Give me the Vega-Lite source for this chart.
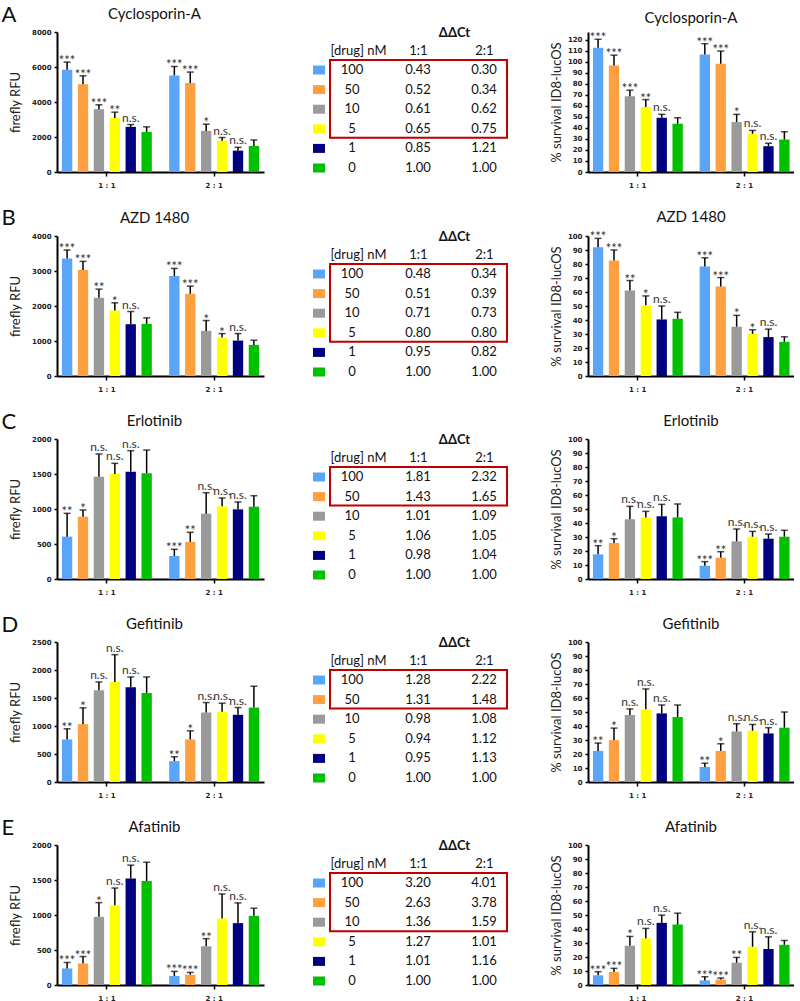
{
"$schema":"https://vega.github.io/schema/vega-lite/v6.json",
"background":"white",
"padding":{"left":1,"top":4,"right":0,"bottom":0},
"spacing":19,
"config":{
 "view":{"stroke":null},
 "font":"Lato",
 "title":{"fontSize":15,"fontWeight":"normal","font":"Lato","color":"#111","offset":6},
 "axis":{"domainColor":"#000","domainWidth":2,"tickColor":"#000","tickWidth":1.5,"tickSize":3,"labelFont":"DejaVu Sans","labelFontWeight":"bold","labelFontSize":7,"labelColor":"#222","titleFont":"Lato","titleFontWeight":"normal","titleFontSize":13,"titleColor":"#222","grid":false,"labelPadding":3},
 "axisY":{"labelBound":false,"tickCount":30},
 "concat":{"spacing":10}
},
"datasets":{
"bars":[
{"drug":"Cyclosporin-A","assay":"rfu","ratio":"1:1","conc":"100","mean":5840,"upper":6280,"sig":"***"},
{"drug":"Cyclosporin-A","assay":"rfu","ratio":"1:1","conc":"50","mean":5020,"upper":5500,"sig":"***"},
{"drug":"Cyclosporin-A","assay":"rfu","ratio":"1:1","conc":"10","mean":3590,"upper":3840,"sig":"***"},
{"drug":"Cyclosporin-A","assay":"rfu","ratio":"1:1","conc":"5","mean":3090,"upper":3420,"sig":"**"},
{"drug":"Cyclosporin-A","assay":"rfu","ratio":"1:1","conc":"1","mean":2580,"upper":2710,"sig":"n.s."},
{"drug":"Cyclosporin-A","assay":"rfu","ratio":"1:1","conc":"0","mean":2290,"upper":2580,"sig":""},
{"drug":"Cyclosporin-A","assay":"rfu","ratio":"2:1","conc":"100","mean":5520,"upper":6030,"sig":"***"},
{"drug":"Cyclosporin-A","assay":"rfu","ratio":"2:1","conc":"50","mean":5080,"upper":5710,"sig":"***"},
{"drug":"Cyclosporin-A","assay":"rfu","ratio":"2:1","conc":"10","mean":2350,"upper":2730,"sig":"*"},
{"drug":"Cyclosporin-A","assay":"rfu","ratio":"2:1","conc":"5","mean":1790,"upper":1970,"sig":"n.s."},
{"drug":"Cyclosporin-A","assay":"rfu","ratio":"2:1","conc":"1","mean":1220,"upper":1410,"sig":"n.s."},
{"drug":"Cyclosporin-A","assay":"rfu","ratio":"2:1","conc":"0","mean":1490,"upper":1830,"sig":""},
{"drug":"Cyclosporin-A","assay":"surv","ratio":"1:1","conc":"100","mean":112.8,"upper":120.4,"sig":"***"},
{"drug":"Cyclosporin-A","assay":"surv","ratio":"1:1","conc":"50","mean":96.7,"upper":106,"sig":"***"},
{"drug":"Cyclosporin-A","assay":"surv","ratio":"1:1","conc":"10","mean":68.7,"upper":74.2,"sig":"***"},
{"drug":"Cyclosporin-A","assay":"surv","ratio":"1:1","conc":"5","mean":59.0,"upper":65.7,"sig":"**"},
{"drug":"Cyclosporin-A","assay":"surv","ratio":"1:1","conc":"1","mean":49.2,"upper":52.3,"sig":"n.s."},
{"drug":"Cyclosporin-A","assay":"surv","ratio":"1:1","conc":"0","mean":43.8,"upper":49.2,"sig":""},
{"drug":"Cyclosporin-A","assay":"surv","ratio":"2:1","conc":"100","mean":106.7,"upper":116.4,"sig":"***"},
{"drug":"Cyclosporin-A","assay":"surv","ratio":"2:1","conc":"50","mean":98.2,"upper":109.7,"sig":"***"},
{"drug":"Cyclosporin-A","assay":"surv","ratio":"2:1","conc":"10","mean":45.3,"upper":52.3,"sig":"*"},
{"drug":"Cyclosporin-A","assay":"surv","ratio":"2:1","conc":"5","mean":34.7,"upper":37.7,"sig":"n.s."},
{"drug":"Cyclosporin-A","assay":"surv","ratio":"2:1","conc":"1","mean":23.4,"upper":26.1,"sig":"n.s."},
{"drug":"Cyclosporin-A","assay":"surv","ratio":"2:1","conc":"0","mean":29.5,"upper":36.5,"sig":""},
{"drug":"AZD 1480","assay":"rfu","ratio":"1:1","conc":"100","mean":3360,"upper":3600,"sig":"***"},
{"drug":"AZD 1480","assay":"rfu","ratio":"1:1","conc":"50","mean":3026,"upper":3275,"sig":"***"},
{"drug":"AZD 1480","assay":"rfu","ratio":"1:1","conc":"10","mean":2234,"upper":2482,"sig":"**"},
{"drug":"AZD 1480","assay":"rfu","ratio":"1:1","conc":"5","mean":1871,"upper":2091,"sig":"*"},
{"drug":"AZD 1480","assay":"rfu","ratio":"1:1","conc":"1","mean":1480,"upper":1842,"sig":"n.s."},
{"drug":"AZD 1480","assay":"rfu","ratio":"1:1","conc":"0","mean":1489,"upper":1661,"sig":""},
{"drug":"AZD 1480","assay":"rfu","ratio":"2:1","conc":"100","mean":2854,"upper":3074,"sig":"***"},
{"drug":"AZD 1480","assay":"rfu","ratio":"2:1","conc":"50","mean":2348,"upper":2568,"sig":"***"},
{"drug":"AZD 1480","assay":"rfu","ratio":"2:1","conc":"10","mean":1289,"upper":1585,"sig":"*"},
{"drug":"AZD 1480","assay":"rfu","ratio":"2:1","conc":"5","mean":1098,"upper":1212,"sig":"*"},
{"drug":"AZD 1480","assay":"rfu","ratio":"2:1","conc":"1","mean":1012,"upper":1212,"sig":"n.s."},
{"drug":"AZD 1480","assay":"rfu","ratio":"2:1","conc":"0","mean":888,"upper":1021,"sig":""},
{"drug":"AZD 1480","assay":"surv","ratio":"1:1","conc":"100","mean":91.9,"upper":98.3,"sig":"***"},
{"drug":"AZD 1480","assay":"surv","ratio":"1:1","conc":"50","mean":82.5,"upper":90.0,"sig":"***"},
{"drug":"AZD 1480","assay":"surv","ratio":"1:1","conc":"10","mean":61.0,"upper":68.2,"sig":"**"},
{"drug":"AZD 1480","assay":"surv","ratio":"1:1","conc":"5","mean":50.5,"upper":57.2,"sig":"*"},
{"drug":"AZD 1480","assay":"surv","ratio":"1:1","conc":"1","mean":40.4,"upper":50.0,"sig":"n.s."},
{"drug":"AZD 1480","assay":"surv","ratio":"1:1","conc":"0","mean":40.9,"upper":45.5,"sig":""},
{"drug":"AZD 1480","assay":"surv","ratio":"2:1","conc":"100","mean":78.2,"upper":84.4,"sig":"***"},
{"drug":"AZD 1480","assay":"surv","ratio":"2:1","conc":"50","mean":63.9,"upper":70.3,"sig":"***"},
{"drug":"AZD 1480","assay":"surv","ratio":"2:1","conc":"10","mean":35.2,"upper":43.3,"sig":"*"},
{"drug":"AZD 1480","assay":"surv","ratio":"2:1","conc":"5","mean":30.1,"upper":33.0,"sig":"*"},
{"drug":"AZD 1480","assay":"surv","ratio":"2:1","conc":"1","mean":27.8,"upper":33.5,"sig":"n.s."},
{"drug":"AZD 1480","assay":"surv","ratio":"2:1","conc":"0","mean":24.4,"upper":28.0,"sig":""},
{"drug":"Erlotinib","assay":"rfu","ratio":"1:1","conc":"100","mean":605,"upper":938,"sig":"**"},
{"drug":"Erlotinib","assay":"rfu","ratio":"1:1","conc":"50","mean":890,"upper":986,"sig":"*"},
{"drug":"Erlotinib","assay":"rfu","ratio":"1:1","conc":"10","mean":1462,"upper":1786,"sig":"n.s."},
{"drug":"Erlotinib","assay":"rfu","ratio":"1:1","conc":"5","mean":1500,"upper":1652,"sig":"n.s."},
{"drug":"Erlotinib","assay":"rfu","ratio":"1:1","conc":"1","mean":1533,"upper":1833,"sig":"n.s."},
{"drug":"Erlotinib","assay":"rfu","ratio":"1:1","conc":"0","mean":1510,"upper":1843,"sig":""},
{"drug":"Erlotinib","assay":"rfu","ratio":"2:1","conc":"100","mean":329,"upper":424,"sig":"***"},
{"drug":"Erlotinib","assay":"rfu","ratio":"2:1","conc":"50","mean":529,"upper":667,"sig":"**"},
{"drug":"Erlotinib","assay":"rfu","ratio":"2:1","conc":"10","mean":933,"upper":1233,"sig":"n.s."},
{"drug":"Erlotinib","assay":"rfu","ratio":"2:1","conc":"5","mean":1038,"upper":1157,"sig":"n.s."},
{"drug":"Erlotinib","assay":"rfu","ratio":"2:1","conc":"1","mean":995,"upper":1100,"sig":"n.s."},
{"drug":"Erlotinib","assay":"rfu","ratio":"2:1","conc":"0","mean":1033,"upper":1190,"sig":""},
{"drug":"Erlotinib","assay":"surv","ratio":"1:1","conc":"100","mean":17.6,"upper":23.8,"sig":"**"},
{"drug":"Erlotinib","assay":"surv","ratio":"1:1","conc":"50","mean":25.7,"upper":28.8,"sig":"*"},
{"drug":"Erlotinib","assay":"surv","ratio":"1:1","conc":"10","mean":42.6,"upper":51.9,"sig":"n.s."},
{"drug":"Erlotinib","assay":"surv","ratio":"1:1","conc":"5","mean":44.0,"upper":48.3,"sig":"n.s."},
{"drug":"Erlotinib","assay":"surv","ratio":"1:1","conc":"1","mean":44.8,"upper":53.3,"sig":"n.s."},
{"drug":"Erlotinib","assay":"surv","ratio":"1:1","conc":"0","mean":44.0,"upper":53.6,"sig":""},
{"drug":"Erlotinib","assay":"surv","ratio":"2:1","conc":"100","mean":9.5,"upper":12.4,"sig":"***"},
{"drug":"Erlotinib","assay":"surv","ratio":"2:1","conc":"50","mean":15.2,"upper":19.5,"sig":"**"},
{"drug":"Erlotinib","assay":"surv","ratio":"2:1","conc":"10","mean":26.9,"upper":35.7,"sig":"n.s."},
{"drug":"Erlotinib","assay":"surv","ratio":"2:1","conc":"5","mean":30.2,"upper":34.0,"sig":"n.s."},
{"drug":"Erlotinib","assay":"surv","ratio":"2:1","conc":"1","mean":28.8,"upper":32.1,"sig":"n.s."},
{"drug":"Erlotinib","assay":"surv","ratio":"2:1","conc":"0","mean":30.2,"upper":34.8,"sig":""},
{"drug":"Gefitinib","assay":"rfu","ratio":"1:1","conc":"100","mean":760,"upper":950,"sig":"**"},
{"drug":"Gefitinib","assay":"rfu","ratio":"1:1","conc":"50","mean":1033,"upper":1324,"sig":"*"},
{"drug":"Gefitinib","assay":"rfu","ratio":"1:1","conc":"10","mean":1639,"upper":1787,"sig":"n.s."},
{"drug":"Gefitinib","assay":"rfu","ratio":"1:1","conc":"5","mean":1787,"upper":2274,"sig":"n.s."},
{"drug":"Gefitinib","assay":"rfu","ratio":"1:1","conc":"1","mean":1692,"upper":1876,"sig":"n.s."},
{"drug":"Gefitinib","assay":"rfu","ratio":"1:1","conc":"0","mean":1591,"upper":1876,"sig":""},
{"drug":"Gefitinib","assay":"rfu","ratio":"2:1","conc":"100","mean":374,"upper":451,"sig":"**"},
{"drug":"Gefitinib","assay":"rfu","ratio":"2:1","conc":"50","mean":760,"upper":914,"sig":"*"},
{"drug":"Gefitinib","assay":"rfu","ratio":"2:1","conc":"10","mean":1241,"upper":1419,"sig":"n.s."},
{"drug":"Gefitinib","assay":"rfu","ratio":"2:1","conc":"5","mean":1253,"upper":1407,"sig":"n.s."},
{"drug":"Gefitinib","assay":"rfu","ratio":"2:1","conc":"1","mean":1200,"upper":1330,"sig":"n.s."},
{"drug":"Gefitinib","assay":"rfu","ratio":"2:1","conc":"0","mean":1330,"upper":1710,"sig":""},
{"drug":"Gefitinib","assay":"surv","ratio":"1:1","conc":"100","mean":22.2,"upper":27.8,"sig":"**"},
{"drug":"Gefitinib","assay":"surv","ratio":"1:1","conc":"50","mean":29.9,"upper":38.5,"sig":"*"},
{"drug":"Gefitinib","assay":"surv","ratio":"1:1","conc":"10","mean":47.8,"upper":52.2,"sig":"n.s."},
{"drug":"Gefitinib","assay":"surv","ratio":"1:1","conc":"5","mean":51.9,"upper":66.5,"sig":"n.s."},
{"drug":"Gefitinib","assay":"surv","ratio":"1:1","conc":"1","mean":49.0,"upper":55.0,"sig":"n.s."},
{"drug":"Gefitinib","assay":"surv","ratio":"1:1","conc":"0","mean":46.4,"upper":55.0,"sig":""},
{"drug":"Gefitinib","assay":"surv","ratio":"2:1","conc":"100","mean":10.8,"upper":13.4,"sig":"**"},
{"drug":"Gefitinib","assay":"surv","ratio":"2:1","conc":"50","mean":22.2,"upper":27.3,"sig":"*"},
{"drug":"Gefitinib","assay":"surv","ratio":"2:1","conc":"10","mean":36.1,"upper":41.6,"sig":"n.s."},
{"drug":"Gefitinib","assay":"surv","ratio":"2:1","conc":"5","mean":36.6,"upper":41.1,"sig":"n.s."},
{"drug":"Gefitinib","assay":"surv","ratio":"2:1","conc":"1","mean":34.7,"upper":38.8,"sig":"n.s."},
{"drug":"Gefitinib","assay":"surv","ratio":"2:1","conc":"0","mean":38.8,"upper":50.0,"sig":""},
{"drug":"Afatinib","assay":"rfu","ratio":"1:1","conc":"100","mean":236,"upper":322,"sig":"***"},
{"drug":"Afatinib","assay":"rfu","ratio":"1:1","conc":"50","mean":307,"upper":407,"sig":"***"},
{"drug":"Afatinib","assay":"rfu","ratio":"1:1","conc":"10","mean":974,"upper":1177,"sig":"*"},
{"drug":"Afatinib","assay":"rfu","ratio":"1:1","conc":"5","mean":1139,"upper":1385,"sig":"n.s."},
{"drug":"Afatinib","assay":"rfu","ratio":"1:1","conc":"1","mean":1522,"upper":1712,"sig":"n.s."},
{"drug":"Afatinib","assay":"rfu","ratio":"1:1","conc":"0","mean":1485,"upper":1754,"sig":""},
{"drug":"Afatinib","assay":"rfu","ratio":"2:1","conc":"100","mean":128,"upper":194,"sig":"***"},
{"drug":"Afatinib","assay":"rfu","ratio":"2:1","conc":"50","mean":147,"upper":180,"sig":"***"},
{"drug":"Afatinib","assay":"rfu","ratio":"2:1","conc":"10","mean":553,"upper":662,"sig":"**"},
{"drug":"Afatinib","assay":"rfu","ratio":"2:1","conc":"5","mean":950,"upper":1300,"sig":"n.s."},
{"drug":"Afatinib","assay":"rfu","ratio":"2:1","conc":"1","mean":884,"upper":1173,"sig":"n.s."},
{"drug":"Afatinib","assay":"rfu","ratio":"2:1","conc":"0","mean":988,"upper":1097,"sig":""},
{"drug":"Afatinib","assay":"surv","ratio":"1:1","conc":"100","mean":6.9,"upper":9.5,"sig":"***"},
{"drug":"Afatinib","assay":"surv","ratio":"1:1","conc":"50","mean":9.3,"upper":11.9,"sig":"***"},
{"drug":"Afatinib","assay":"surv","ratio":"1:1","conc":"10","mean":28.0,"upper":34.7,"sig":"*"},
{"drug":"Afatinib","assay":"surv","ratio":"1:1","conc":"5","mean":33.3,"upper":40.4,"sig":"n.s."},
{"drug":"Afatinib","assay":"surv","ratio":"1:1","conc":"1","mean":44.4,"upper":49.9,"sig":"n.s."},
{"drug":"Afatinib","assay":"surv","ratio":"1:1","conc":"0","mean":43.2,"upper":51.3,"sig":""},
{"drug":"Afatinib","assay":"surv","ratio":"2:1","conc":"100","mean":3.3,"upper":5.9,"sig":"***"},
{"drug":"Afatinib","assay":"surv","ratio":"2:1","conc":"50","mean":4.0,"upper":5.0,"sig":"***"},
{"drug":"Afatinib","assay":"surv","ratio":"2:1","conc":"10","mean":15.9,"upper":19.7,"sig":"**"},
{"drug":"Afatinib","assay":"surv","ratio":"2:1","conc":"5","mean":27.3,"upper":38.0,"sig":"n.s."},
{"drug":"Afatinib","assay":"surv","ratio":"2:1","conc":"1","mean":25.7,"upper":34.4,"sig":"n.s."},
{"drug":"Afatinib","assay":"surv","ratio":"2:1","conc":"0","mean":28.7,"upper":31.8,"sig":""}
],
"table":[
{"drug":"Cyclosporin-A","conc":"100","r11":0.43,"r21":0.30},
{"drug":"Cyclosporin-A","conc":"50","r11":0.52,"r21":0.34},
{"drug":"Cyclosporin-A","conc":"10","r11":0.61,"r21":0.62},
{"drug":"Cyclosporin-A","conc":"5","r11":0.65,"r21":0.75},
{"drug":"Cyclosporin-A","conc":"1","r11":0.85,"r21":1.21},
{"drug":"Cyclosporin-A","conc":"0","r11":1.00,"r21":1.00},
{"drug":"AZD 1480","conc":"100","r11":0.48,"r21":0.34},
{"drug":"AZD 1480","conc":"50","r11":0.51,"r21":0.39},
{"drug":"AZD 1480","conc":"10","r11":0.71,"r21":0.73},
{"drug":"AZD 1480","conc":"5","r11":0.80,"r21":0.80},
{"drug":"AZD 1480","conc":"1","r11":0.95,"r21":0.82},
{"drug":"AZD 1480","conc":"0","r11":1.00,"r21":1.00},
{"drug":"Erlotinib","conc":"100","r11":1.81,"r21":2.32},
{"drug":"Erlotinib","conc":"50","r11":1.43,"r21":1.65},
{"drug":"Erlotinib","conc":"10","r11":1.01,"r21":1.09},
{"drug":"Erlotinib","conc":"5","r11":1.06,"r21":1.05},
{"drug":"Erlotinib","conc":"1","r11":0.98,"r21":1.04},
{"drug":"Erlotinib","conc":"0","r11":1.00,"r21":1.00},
{"drug":"Gefitinib","conc":"100","r11":1.28,"r21":2.22},
{"drug":"Gefitinib","conc":"50","r11":1.31,"r21":1.48},
{"drug":"Gefitinib","conc":"10","r11":0.98,"r21":1.08},
{"drug":"Gefitinib","conc":"5","r11":0.94,"r21":1.12},
{"drug":"Gefitinib","conc":"1","r11":0.95,"r21":1.13},
{"drug":"Gefitinib","conc":"0","r11":1.00,"r21":1.00},
{"drug":"Afatinib","conc":"100","r11":3.20,"r21":4.01},
{"drug":"Afatinib","conc":"50","r11":2.63,"r21":3.78},
{"drug":"Afatinib","conc":"10","r11":1.36,"r21":1.59},
{"drug":"Afatinib","conc":"5","r11":1.27,"r21":1.01},
{"drug":"Afatinib","conc":"1","r11":1.01,"r21":1.16},
{"drug":"Afatinib","conc":"0","r11":1.00,"r21":1.00}
],
"boxes":[
{"drug":"Cyclosporin-A","from":"100","to":"5"},
{"drug":"AZD 1480","from":"100","to":"5"},
{"drug":"Erlotinib","from":"100","to":"50"},
{"drug":"Gefitinib","from":"100","to":"50"},
{"drug":"Afatinib","from":"100","to":"10"}
]
},
"vconcat":[
{"title":{"text":"A","anchor":"start","fontSize":22,"offset":-20,"dx":-8},
 "hconcat":[
 {"width":207,"height":140,"title":{"text":"Cyclosporin-A","dx":-6},"data":{"name":"bars"},
  "transform":[{"filter":"datum.drug=='Cyclosporin-A' && datum.assay=='rfu'"}],
  "encoding":{"x":{"field":"ratio","type":"nominal","title":null,"scale":{"paddingInner":0.11,"paddingOuter":0.02},"axis":{"labelAngle":0,"labelExpr":"replace(datum.label, ':', ' : ')","tickSize":4,"labelPadding":5}},
   "xOffset":{"field":"conc","type":"nominal","scale":{"domain":["100","50","10","5","1","0"],"paddingInner":0.35,"paddingOuter":0.175}}},
  "layer":[
   {"mark":"bar","encoding":{"y":{"field":"mean","type":"quantitative","scale":{"domain":[0,8000],"nice":false},"axis":{"title":"firefly RFU","values":[0,2000,4000,6000,8000],"tickCount":30,"format":"d","titlePadding":9,"labelOverlap":false}},"color":{"field":"conc","type":"nominal","scale":{"domain":["100","50","10","5","1","0"],"range":["#5AA5F7","#FFA040","#9A9A9A","#FFFF00","#000080","#00C000"]},"legend":null}}},
   {"mark":{"type":"rule","color":"#000","strokeWidth":1.5},"encoding":{"y":{"field":"mean","type":"quantitative","axis":{"labelOverlap":false,"tickCount":30}},"y2":{"field":"upper"}}},
   {"mark":{"type":"tick","orient":"horizontal","color":"#000","thickness":1.5,"size":7},"encoding":{"y":{"field":"upper","type":"quantitative","axis":{"labelOverlap":false,"tickCount":30}}}},
   {"transform":[{"filter":"datum.sig=='n.s.'"}],"mark":{"type":"text","dy":-3,"baseline":"alphabetic","fontSize":12,"color":"#333"},"encoding":{"y":{"field":"upper","type":"quantitative","axis":{"labelOverlap":false,"tickCount":30}},"text":{"field":"sig"}}},
   {"transform":[{"filter":"datum.sig!='n.s.'"}],"mark":{"type":"text","dy":3,"baseline":"alphabetic","fontSize":13,"color":"#333"},"encoding":{"y":{"field":"upper","type":"quantitative","axis":{"labelOverlap":false,"tickCount":30}},"text":{"field":"sig"}}}
  ]},
 {"width":266,"height":140,
  "layer":[
   {"data":{"name":"table"},"transform":[{"filter":"datum.drug=='Cyclosporin-A'"}],
    "mark":{"type":"point","shape":"M-1,-0.75H1V0.75H-1Z","size":144,"filled":true,"opacity":1,"strokeWidth":0},
    "encoding":{"x":{"datum":"sw","type":"nominal","scale":{"type":"point","domain":["sw","[drug] nM","g1","1:1","g2","2:1"],"range":[45,210],"padding":0},"axis":{"orient":"top","domain":false,"ticks":false,"labelAngle":0,"labelPadding":0,"offset":-25,"labelFont":"Lato","labelFontWeight":"normal","labelFontSize":13,"labelColor":"#111","labelExpr":"datum.value == 'sw' || datum.value == 'g1' || datum.value == 'g2' ? '' : datum.value","labelOffset":{"condition":{"test":"datum.value == '[drug] nM'","value":6},"value":0},"title":"ΔΔCt","titleFont":"Lato","titleFontWeight":"bold","titleFontSize":13,"titlePadding":5,"titleX":180,"titleColor":"#111"}},
     "y":{"field":"conc","type":"nominal","scale":{"type":"point","domain":["100","50","10","5","1","0"],"range":[38,136],"padding":0},"axis":null},
     "color":{"field":"conc","type":"nominal","scale":{"domain":["100","50","10","5","1","0"],"range":["#5AA5F7","#FFA040","#9A9A9A","#FFFF00","#000080","#00C000"]},"legend":null}}},
   {"data":{"name":"table"},"transform":[{"filter":"datum.drug=='Cyclosporin-A'"}],"mark":{"type":"text","fontSize":13,"color":"#111"},
    "encoding":{"x":{"datum":"[drug] nM","type":"nominal"},"y":{"field":"conc","type":"nominal"},"text":{"field":"conc"}}},
   {"data":{"name":"table"},"transform":[{"filter":"datum.drug=='Cyclosporin-A'"}],"mark":{"type":"text","fontSize":13,"color":"#111"},
    "encoding":{"x":{"datum":"1:1","type":"nominal"},"y":{"field":"conc","type":"nominal"},"text":{"field":"r11","format":".2f"}}},
   {"data":{"name":"table"},"transform":[{"filter":"datum.drug=='Cyclosporin-A'"}],"mark":{"type":"text","fontSize":13,"color":"#111"},
    "encoding":{"x":{"datum":"2:1","type":"nominal"},"y":{"field":"conc","type":"nominal"},"text":{"field":"r21","format":".2f"}}},
   {"data":{"name":"boxes"},"transform":[{"filter":"datum.drug=='Cyclosporin-A'"}],
    "mark":{"type":"rect","fill":null,"stroke":"#C00000","strokeWidth":2,"xOffset":-22,"x2Offset":23,"yOffset":-10,"y2Offset":9},
    "encoding":{"x":{"datum":"[drug] nM","type":"nominal"},"x2":{"datum":"2:1"},"y":{"field":"from","type":"nominal"},"y2":{"field":"to"}}}
  ]},
 {"width":206,"height":140,"title":"Cyclosporin-A","data":{"name":"bars"},
  "transform":[{"filter":"datum.drug=='Cyclosporin-A' && datum.assay=='surv'"}],
  "encoding":{"x":{"field":"ratio","type":"nominal","title":null,"scale":{"paddingInner":0.11,"paddingOuter":0.02},"axis":{"labelAngle":0,"labelExpr":"replace(datum.label, ':', ' : ')","tickSize":4,"labelPadding":5}},
   "xOffset":{"field":"conc","type":"nominal","scale":{"domain":["100","50","10","5","1","0"],"paddingInner":0.35,"paddingOuter":0.175}}},
  "layer":[
   {"mark":"bar","encoding":{"y":{"field":"mean","type":"quantitative","scale":{"domain":[0,127],"nice":false},"axis":{"title":"% survival ID8-lucOS","values":[0,10,20,30,40,50,60,70,80,90,100,110,120],"tickCount":30,"format":"d","titlePadding":4,"labelOverlap":false}},"color":{"field":"conc","type":"nominal","scale":{"domain":["100","50","10","5","1","0"],"range":["#5AA5F7","#FFA040","#9A9A9A","#FFFF00","#000080","#00C000"]},"legend":null}}},
   {"mark":{"type":"rule","color":"#000","strokeWidth":1.5},"encoding":{"y":{"field":"mean","type":"quantitative","axis":{"labelOverlap":false,"tickCount":30}},"y2":{"field":"upper"}}},
   {"mark":{"type":"tick","orient":"horizontal","color":"#000","thickness":1.5,"size":7},"encoding":{"y":{"field":"upper","type":"quantitative","axis":{"labelOverlap":false,"tickCount":30}}}},
   {"transform":[{"filter":"datum.sig=='n.s.'"}],"mark":{"type":"text","dy":-3,"baseline":"alphabetic","fontSize":12,"color":"#333"},"encoding":{"y":{"field":"upper","type":"quantitative","axis":{"labelOverlap":false,"tickCount":30}},"text":{"field":"sig"}}},
   {"transform":[{"filter":"datum.sig!='n.s.'"}],"mark":{"type":"text","dy":3,"baseline":"alphabetic","fontSize":13,"color":"#333"},"encoding":{"y":{"field":"upper","type":"quantitative","axis":{"labelOverlap":false,"tickCount":30}},"text":{"field":"sig"}}}
  ]}
 ]},
{"title":{"text":"B","anchor":"start","fontSize":22,"offset":-20,"dx":-8},
 "hconcat":[
 {"width":207,"height":140,"title":{"text":"AZD 1480","dx":-6},"data":{"name":"bars"},
  "transform":[{"filter":"datum.drug=='AZD 1480' && datum.assay=='rfu'"}],
  "encoding":{"x":{"field":"ratio","type":"nominal","title":null,"scale":{"paddingInner":0.11,"paddingOuter":0.02},"axis":{"labelAngle":0,"labelExpr":"replace(datum.label, ':', ' : ')","tickSize":4,"labelPadding":5}},
   "xOffset":{"field":"conc","type":"nominal","scale":{"domain":["100","50","10","5","1","0"],"paddingInner":0.35,"paddingOuter":0.175}}},
  "layer":[
   {"mark":"bar","encoding":{"y":{"field":"mean","type":"quantitative","scale":{"domain":[0,4000],"nice":false},"axis":{"title":"firefly RFU","values":[0,1000,2000,3000,4000],"tickCount":30,"format":"d","titlePadding":9,"labelOverlap":false}},"color":{"field":"conc","type":"nominal","scale":{"domain":["100","50","10","5","1","0"],"range":["#5AA5F7","#FFA040","#9A9A9A","#FFFF00","#000080","#00C000"]},"legend":null}}},
   {"mark":{"type":"rule","color":"#000","strokeWidth":1.5},"encoding":{"y":{"field":"mean","type":"quantitative","axis":{"labelOverlap":false,"tickCount":30}},"y2":{"field":"upper"}}},
   {"mark":{"type":"tick","orient":"horizontal","color":"#000","thickness":1.5,"size":7},"encoding":{"y":{"field":"upper","type":"quantitative","axis":{"labelOverlap":false,"tickCount":30}}}},
   {"transform":[{"filter":"datum.sig=='n.s.'"}],"mark":{"type":"text","dy":-3,"baseline":"alphabetic","fontSize":12,"color":"#333"},"encoding":{"y":{"field":"upper","type":"quantitative","axis":{"labelOverlap":false,"tickCount":30}},"text":{"field":"sig"}}},
   {"transform":[{"filter":"datum.sig!='n.s.'"}],"mark":{"type":"text","dy":3,"baseline":"alphabetic","fontSize":13,"color":"#333"},"encoding":{"y":{"field":"upper","type":"quantitative","axis":{"labelOverlap":false,"tickCount":30}},"text":{"field":"sig"}}}
  ]},
 {"width":266,"height":140,
  "layer":[
   {"data":{"name":"table"},"transform":[{"filter":"datum.drug=='AZD 1480'"}],
    "mark":{"type":"point","shape":"M-1,-0.75H1V0.75H-1Z","size":144,"filled":true,"opacity":1,"strokeWidth":0},
    "encoding":{"x":{"datum":"sw","type":"nominal","scale":{"type":"point","domain":["sw","[drug] nM","g1","1:1","g2","2:1"],"range":[45,210],"padding":0},"axis":{"orient":"top","domain":false,"ticks":false,"labelAngle":0,"labelPadding":0,"offset":-25,"labelFont":"Lato","labelFontWeight":"normal","labelFontSize":13,"labelColor":"#111","labelExpr":"datum.value == 'sw' || datum.value == 'g1' || datum.value == 'g2' ? '' : datum.value","labelOffset":{"condition":{"test":"datum.value == '[drug] nM'","value":6},"value":0},"title":"ΔΔCt","titleFont":"Lato","titleFontWeight":"bold","titleFontSize":13,"titlePadding":5,"titleX":180,"titleColor":"#111"}},
     "y":{"field":"conc","type":"nominal","scale":{"type":"point","domain":["100","50","10","5","1","0"],"range":[38,136],"padding":0},"axis":null},
     "color":{"field":"conc","type":"nominal","scale":{"domain":["100","50","10","5","1","0"],"range":["#5AA5F7","#FFA040","#9A9A9A","#FFFF00","#000080","#00C000"]},"legend":null}}},
   {"data":{"name":"table"},"transform":[{"filter":"datum.drug=='AZD 1480'"}],"mark":{"type":"text","fontSize":13,"color":"#111"},
    "encoding":{"x":{"datum":"[drug] nM","type":"nominal"},"y":{"field":"conc","type":"nominal"},"text":{"field":"conc"}}},
   {"data":{"name":"table"},"transform":[{"filter":"datum.drug=='AZD 1480'"}],"mark":{"type":"text","fontSize":13,"color":"#111"},
    "encoding":{"x":{"datum":"1:1","type":"nominal"},"y":{"field":"conc","type":"nominal"},"text":{"field":"r11","format":".2f"}}},
   {"data":{"name":"table"},"transform":[{"filter":"datum.drug=='AZD 1480'"}],"mark":{"type":"text","fontSize":13,"color":"#111"},
    "encoding":{"x":{"datum":"2:1","type":"nominal"},"y":{"field":"conc","type":"nominal"},"text":{"field":"r21","format":".2f"}}},
   {"data":{"name":"boxes"},"transform":[{"filter":"datum.drug=='AZD 1480'"}],
    "mark":{"type":"rect","fill":null,"stroke":"#C00000","strokeWidth":2,"xOffset":-22,"x2Offset":23,"yOffset":-10,"y2Offset":9},
    "encoding":{"x":{"datum":"[drug] nM","type":"nominal"},"x2":{"datum":"2:1"},"y":{"field":"from","type":"nominal"},"y2":{"field":"to"}}}
  ]},
 {"width":206,"height":140,"title":"AZD 1480","data":{"name":"bars"},
  "transform":[{"filter":"datum.drug=='AZD 1480' && datum.assay=='surv'"}],
  "encoding":{"x":{"field":"ratio","type":"nominal","title":null,"scale":{"paddingInner":0.11,"paddingOuter":0.02},"axis":{"labelAngle":0,"labelExpr":"replace(datum.label, ':', ' : ')","tickSize":4,"labelPadding":5}},
   "xOffset":{"field":"conc","type":"nominal","scale":{"domain":["100","50","10","5","1","0"],"paddingInner":0.35,"paddingOuter":0.175}}},
  "layer":[
   {"mark":"bar","encoding":{"y":{"field":"mean","type":"quantitative","scale":{"domain":[0,100],"nice":false},"axis":{"title":"% survival ID8-lucOS","values":[0,10,20,30,40,50,60,70,80,90,100],"tickCount":30,"format":"d","titlePadding":4,"labelOverlap":false}},"color":{"field":"conc","type":"nominal","scale":{"domain":["100","50","10","5","1","0"],"range":["#5AA5F7","#FFA040","#9A9A9A","#FFFF00","#000080","#00C000"]},"legend":null}}},
   {"mark":{"type":"rule","color":"#000","strokeWidth":1.5},"encoding":{"y":{"field":"mean","type":"quantitative","axis":{"labelOverlap":false,"tickCount":30}},"y2":{"field":"upper"}}},
   {"mark":{"type":"tick","orient":"horizontal","color":"#000","thickness":1.5,"size":7},"encoding":{"y":{"field":"upper","type":"quantitative","axis":{"labelOverlap":false,"tickCount":30}}}},
   {"transform":[{"filter":"datum.sig=='n.s.'"}],"mark":{"type":"text","dy":-3,"baseline":"alphabetic","fontSize":12,"color":"#333"},"encoding":{"y":{"field":"upper","type":"quantitative","axis":{"labelOverlap":false,"tickCount":30}},"text":{"field":"sig"}}},
   {"transform":[{"filter":"datum.sig!='n.s.'"}],"mark":{"type":"text","dy":3,"baseline":"alphabetic","fontSize":13,"color":"#333"},"encoding":{"y":{"field":"upper","type":"quantitative","axis":{"labelOverlap":false,"tickCount":30}},"text":{"field":"sig"}}}
  ]}
 ]},
{"title":{"text":"C","anchor":"start","fontSize":22,"offset":-20,"dx":-8},
 "hconcat":[
 {"width":207,"height":140,"title":{"text":"Erlotinib","dx":-6},"data":{"name":"bars"},
  "transform":[{"filter":"datum.drug=='Erlotinib' && datum.assay=='rfu'"}],
  "encoding":{"x":{"field":"ratio","type":"nominal","title":null,"scale":{"paddingInner":0.11,"paddingOuter":0.02},"axis":{"labelAngle":0,"labelExpr":"replace(datum.label, ':', ' : ')","tickSize":4,"labelPadding":5}},
   "xOffset":{"field":"conc","type":"nominal","scale":{"domain":["100","50","10","5","1","0"],"paddingInner":0.35,"paddingOuter":0.175}}},
  "layer":[
   {"mark":"bar","encoding":{"y":{"field":"mean","type":"quantitative","scale":{"domain":[0,2000],"nice":false},"axis":{"title":"firefly RFU","values":[0,500,1000,1500,2000],"tickCount":30,"format":"d","titlePadding":9,"labelOverlap":false}},"color":{"field":"conc","type":"nominal","scale":{"domain":["100","50","10","5","1","0"],"range":["#5AA5F7","#FFA040","#9A9A9A","#FFFF00","#000080","#00C000"]},"legend":null}}},
   {"mark":{"type":"rule","color":"#000","strokeWidth":1.5},"encoding":{"y":{"field":"mean","type":"quantitative","axis":{"labelOverlap":false,"tickCount":30}},"y2":{"field":"upper"}}},
   {"mark":{"type":"tick","orient":"horizontal","color":"#000","thickness":1.5,"size":7},"encoding":{"y":{"field":"upper","type":"quantitative","axis":{"labelOverlap":false,"tickCount":30}}}},
   {"transform":[{"filter":"datum.sig=='n.s.'"}],"mark":{"type":"text","dy":-3,"baseline":"alphabetic","fontSize":12,"color":"#333"},"encoding":{"y":{"field":"upper","type":"quantitative","axis":{"labelOverlap":false,"tickCount":30}},"text":{"field":"sig"}}},
   {"transform":[{"filter":"datum.sig!='n.s.'"}],"mark":{"type":"text","dy":3,"baseline":"alphabetic","fontSize":13,"color":"#333"},"encoding":{"y":{"field":"upper","type":"quantitative","axis":{"labelOverlap":false,"tickCount":30}},"text":{"field":"sig"}}}
  ]},
 {"width":266,"height":140,
  "layer":[
   {"data":{"name":"table"},"transform":[{"filter":"datum.drug=='Erlotinib'"}],
    "mark":{"type":"point","shape":"M-1,-0.75H1V0.75H-1Z","size":144,"filled":true,"opacity":1,"strokeWidth":0},
    "encoding":{"x":{"datum":"sw","type":"nominal","scale":{"type":"point","domain":["sw","[drug] nM","g1","1:1","g2","2:1"],"range":[45,210],"padding":0},"axis":{"orient":"top","domain":false,"ticks":false,"labelAngle":0,"labelPadding":0,"offset":-25,"labelFont":"Lato","labelFontWeight":"normal","labelFontSize":13,"labelColor":"#111","labelExpr":"datum.value == 'sw' || datum.value == 'g1' || datum.value == 'g2' ? '' : datum.value","labelOffset":{"condition":{"test":"datum.value == '[drug] nM'","value":6},"value":0},"title":"ΔΔCt","titleFont":"Lato","titleFontWeight":"bold","titleFontSize":13,"titlePadding":5,"titleX":180,"titleColor":"#111"}},
     "y":{"field":"conc","type":"nominal","scale":{"type":"point","domain":["100","50","10","5","1","0"],"range":[38,136],"padding":0},"axis":null},
     "color":{"field":"conc","type":"nominal","scale":{"domain":["100","50","10","5","1","0"],"range":["#5AA5F7","#FFA040","#9A9A9A","#FFFF00","#000080","#00C000"]},"legend":null}}},
   {"data":{"name":"table"},"transform":[{"filter":"datum.drug=='Erlotinib'"}],"mark":{"type":"text","fontSize":13,"color":"#111"},
    "encoding":{"x":{"datum":"[drug] nM","type":"nominal"},"y":{"field":"conc","type":"nominal"},"text":{"field":"conc"}}},
   {"data":{"name":"table"},"transform":[{"filter":"datum.drug=='Erlotinib'"}],"mark":{"type":"text","fontSize":13,"color":"#111"},
    "encoding":{"x":{"datum":"1:1","type":"nominal"},"y":{"field":"conc","type":"nominal"},"text":{"field":"r11","format":".2f"}}},
   {"data":{"name":"table"},"transform":[{"filter":"datum.drug=='Erlotinib'"}],"mark":{"type":"text","fontSize":13,"color":"#111"},
    "encoding":{"x":{"datum":"2:1","type":"nominal"},"y":{"field":"conc","type":"nominal"},"text":{"field":"r21","format":".2f"}}},
   {"data":{"name":"boxes"},"transform":[{"filter":"datum.drug=='Erlotinib'"}],
    "mark":{"type":"rect","fill":null,"stroke":"#C00000","strokeWidth":2,"xOffset":-22,"x2Offset":23,"yOffset":-10,"y2Offset":9},
    "encoding":{"x":{"datum":"[drug] nM","type":"nominal"},"x2":{"datum":"2:1"},"y":{"field":"from","type":"nominal"},"y2":{"field":"to"}}}
  ]},
 {"width":206,"height":140,"title":"Erlotinib","data":{"name":"bars"},
  "transform":[{"filter":"datum.drug=='Erlotinib' && datum.assay=='surv'"}],
  "encoding":{"x":{"field":"ratio","type":"nominal","title":null,"scale":{"paddingInner":0.11,"paddingOuter":0.02},"axis":{"labelAngle":0,"labelExpr":"replace(datum.label, ':', ' : ')","tickSize":4,"labelPadding":5}},
   "xOffset":{"field":"conc","type":"nominal","scale":{"domain":["100","50","10","5","1","0"],"paddingInner":0.35,"paddingOuter":0.175}}},
  "layer":[
   {"mark":"bar","encoding":{"y":{"field":"mean","type":"quantitative","scale":{"domain":[0,100],"nice":false},"axis":{"title":"% survival ID8-lucOS","values":[0,10,20,30,40,50,60,70,80,90,100],"tickCount":30,"format":"d","titlePadding":4,"labelOverlap":false}},"color":{"field":"conc","type":"nominal","scale":{"domain":["100","50","10","5","1","0"],"range":["#5AA5F7","#FFA040","#9A9A9A","#FFFF00","#000080","#00C000"]},"legend":null}}},
   {"mark":{"type":"rule","color":"#000","strokeWidth":1.5},"encoding":{"y":{"field":"mean","type":"quantitative","axis":{"labelOverlap":false,"tickCount":30}},"y2":{"field":"upper"}}},
   {"mark":{"type":"tick","orient":"horizontal","color":"#000","thickness":1.5,"size":7},"encoding":{"y":{"field":"upper","type":"quantitative","axis":{"labelOverlap":false,"tickCount":30}}}},
   {"transform":[{"filter":"datum.sig=='n.s.'"}],"mark":{"type":"text","dy":-3,"baseline":"alphabetic","fontSize":12,"color":"#333"},"encoding":{"y":{"field":"upper","type":"quantitative","axis":{"labelOverlap":false,"tickCount":30}},"text":{"field":"sig"}}},
   {"transform":[{"filter":"datum.sig!='n.s.'"}],"mark":{"type":"text","dy":3,"baseline":"alphabetic","fontSize":13,"color":"#333"},"encoding":{"y":{"field":"upper","type":"quantitative","axis":{"labelOverlap":false,"tickCount":30}},"text":{"field":"sig"}}}
  ]}
 ]},
{"title":{"text":"D","anchor":"start","fontSize":22,"offset":-20,"dx":-8},
 "hconcat":[
 {"width":207,"height":140,"title":{"text":"Gefitinib","dx":-6},"data":{"name":"bars"},
  "transform":[{"filter":"datum.drug=='Gefitinib' && datum.assay=='rfu'"}],
  "encoding":{"x":{"field":"ratio","type":"nominal","title":null,"scale":{"paddingInner":0.11,"paddingOuter":0.02},"axis":{"labelAngle":0,"labelExpr":"replace(datum.label, ':', ' : ')","tickSize":4,"labelPadding":5}},
   "xOffset":{"field":"conc","type":"nominal","scale":{"domain":["100","50","10","5","1","0"],"paddingInner":0.35,"paddingOuter":0.175}}},
  "layer":[
   {"mark":"bar","encoding":{"y":{"field":"mean","type":"quantitative","scale":{"domain":[0,2500],"nice":false},"axis":{"title":"firefly RFU","values":[0,500,1000,1500,2000,2500],"tickCount":30,"format":"d","titlePadding":9,"labelOverlap":false}},"color":{"field":"conc","type":"nominal","scale":{"domain":["100","50","10","5","1","0"],"range":["#5AA5F7","#FFA040","#9A9A9A","#FFFF00","#000080","#00C000"]},"legend":null}}},
   {"mark":{"type":"rule","color":"#000","strokeWidth":1.5},"encoding":{"y":{"field":"mean","type":"quantitative","axis":{"labelOverlap":false,"tickCount":30}},"y2":{"field":"upper"}}},
   {"mark":{"type":"tick","orient":"horizontal","color":"#000","thickness":1.5,"size":7},"encoding":{"y":{"field":"upper","type":"quantitative","axis":{"labelOverlap":false,"tickCount":30}}}},
   {"transform":[{"filter":"datum.sig=='n.s.'"}],"mark":{"type":"text","dy":-3,"baseline":"alphabetic","fontSize":12,"color":"#333"},"encoding":{"y":{"field":"upper","type":"quantitative","axis":{"labelOverlap":false,"tickCount":30}},"text":{"field":"sig"}}},
   {"transform":[{"filter":"datum.sig!='n.s.'"}],"mark":{"type":"text","dy":3,"baseline":"alphabetic","fontSize":13,"color":"#333"},"encoding":{"y":{"field":"upper","type":"quantitative","axis":{"labelOverlap":false,"tickCount":30}},"text":{"field":"sig"}}}
  ]},
 {"width":266,"height":140,
  "layer":[
   {"data":{"name":"table"},"transform":[{"filter":"datum.drug=='Gefitinib'"}],
    "mark":{"type":"point","shape":"M-1,-0.75H1V0.75H-1Z","size":144,"filled":true,"opacity":1,"strokeWidth":0},
    "encoding":{"x":{"datum":"sw","type":"nominal","scale":{"type":"point","domain":["sw","[drug] nM","g1","1:1","g2","2:1"],"range":[45,210],"padding":0},"axis":{"orient":"top","domain":false,"ticks":false,"labelAngle":0,"labelPadding":0,"offset":-25,"labelFont":"Lato","labelFontWeight":"normal","labelFontSize":13,"labelColor":"#111","labelExpr":"datum.value == 'sw' || datum.value == 'g1' || datum.value == 'g2' ? '' : datum.value","labelOffset":{"condition":{"test":"datum.value == '[drug] nM'","value":6},"value":0},"title":"ΔΔCt","titleFont":"Lato","titleFontWeight":"bold","titleFontSize":13,"titlePadding":5,"titleX":180,"titleColor":"#111"}},
     "y":{"field":"conc","type":"nominal","scale":{"type":"point","domain":["100","50","10","5","1","0"],"range":[38,136],"padding":0},"axis":null},
     "color":{"field":"conc","type":"nominal","scale":{"domain":["100","50","10","5","1","0"],"range":["#5AA5F7","#FFA040","#9A9A9A","#FFFF00","#000080","#00C000"]},"legend":null}}},
   {"data":{"name":"table"},"transform":[{"filter":"datum.drug=='Gefitinib'"}],"mark":{"type":"text","fontSize":13,"color":"#111"},
    "encoding":{"x":{"datum":"[drug] nM","type":"nominal"},"y":{"field":"conc","type":"nominal"},"text":{"field":"conc"}}},
   {"data":{"name":"table"},"transform":[{"filter":"datum.drug=='Gefitinib'"}],"mark":{"type":"text","fontSize":13,"color":"#111"},
    "encoding":{"x":{"datum":"1:1","type":"nominal"},"y":{"field":"conc","type":"nominal"},"text":{"field":"r11","format":".2f"}}},
   {"data":{"name":"table"},"transform":[{"filter":"datum.drug=='Gefitinib'"}],"mark":{"type":"text","fontSize":13,"color":"#111"},
    "encoding":{"x":{"datum":"2:1","type":"nominal"},"y":{"field":"conc","type":"nominal"},"text":{"field":"r21","format":".2f"}}},
   {"data":{"name":"boxes"},"transform":[{"filter":"datum.drug=='Gefitinib'"}],
    "mark":{"type":"rect","fill":null,"stroke":"#C00000","strokeWidth":2,"xOffset":-22,"x2Offset":23,"yOffset":-10,"y2Offset":9},
    "encoding":{"x":{"datum":"[drug] nM","type":"nominal"},"x2":{"datum":"2:1"},"y":{"field":"from","type":"nominal"},"y2":{"field":"to"}}}
  ]},
 {"width":206,"height":140,"title":"Gefitinib","data":{"name":"bars"},
  "transform":[{"filter":"datum.drug=='Gefitinib' && datum.assay=='surv'"}],
  "encoding":{"x":{"field":"ratio","type":"nominal","title":null,"scale":{"paddingInner":0.11,"paddingOuter":0.02},"axis":{"labelAngle":0,"labelExpr":"replace(datum.label, ':', ' : ')","tickSize":4,"labelPadding":5}},
   "xOffset":{"field":"conc","type":"nominal","scale":{"domain":["100","50","10","5","1","0"],"paddingInner":0.35,"paddingOuter":0.175}}},
  "layer":[
   {"mark":"bar","encoding":{"y":{"field":"mean","type":"quantitative","scale":{"domain":[0,100],"nice":false},"axis":{"title":"% survival ID8-lucOS","values":[0,10,20,30,40,50,60,70,80,90,100],"tickCount":30,"format":"d","titlePadding":4,"labelOverlap":false}},"color":{"field":"conc","type":"nominal","scale":{"domain":["100","50","10","5","1","0"],"range":["#5AA5F7","#FFA040","#9A9A9A","#FFFF00","#000080","#00C000"]},"legend":null}}},
   {"mark":{"type":"rule","color":"#000","strokeWidth":1.5},"encoding":{"y":{"field":"mean","type":"quantitative","axis":{"labelOverlap":false,"tickCount":30}},"y2":{"field":"upper"}}},
   {"mark":{"type":"tick","orient":"horizontal","color":"#000","thickness":1.5,"size":7},"encoding":{"y":{"field":"upper","type":"quantitative","axis":{"labelOverlap":false,"tickCount":30}}}},
   {"transform":[{"filter":"datum.sig=='n.s.'"}],"mark":{"type":"text","dy":-3,"baseline":"alphabetic","fontSize":12,"color":"#333"},"encoding":{"y":{"field":"upper","type":"quantitative","axis":{"labelOverlap":false,"tickCount":30}},"text":{"field":"sig"}}},
   {"transform":[{"filter":"datum.sig!='n.s.'"}],"mark":{"type":"text","dy":3,"baseline":"alphabetic","fontSize":13,"color":"#333"},"encoding":{"y":{"field":"upper","type":"quantitative","axis":{"labelOverlap":false,"tickCount":30}},"text":{"field":"sig"}}}
  ]}
 ]},
{"title":{"text":"E","anchor":"start","fontSize":22,"offset":-20,"dx":-8},
 "hconcat":[
 {"width":207,"height":140,"title":{"text":"Afatinib","dx":-6},"data":{"name":"bars"},
  "transform":[{"filter":"datum.drug=='Afatinib' && datum.assay=='rfu'"}],
  "encoding":{"x":{"field":"ratio","type":"nominal","title":null,"scale":{"paddingInner":0.11,"paddingOuter":0.02},"axis":{"labelAngle":0,"labelExpr":"replace(datum.label, ':', ' : ')","tickSize":4,"labelPadding":5}},
   "xOffset":{"field":"conc","type":"nominal","scale":{"domain":["100","50","10","5","1","0"],"paddingInner":0.35,"paddingOuter":0.175}}},
  "layer":[
   {"mark":"bar","encoding":{"y":{"field":"mean","type":"quantitative","scale":{"domain":[0,2000],"nice":false},"axis":{"title":"firefly RFU","values":[0,500,1000,1500,2000],"tickCount":30,"format":"d","titlePadding":9,"labelOverlap":false}},"color":{"field":"conc","type":"nominal","scale":{"domain":["100","50","10","5","1","0"],"range":["#5AA5F7","#FFA040","#9A9A9A","#FFFF00","#000080","#00C000"]},"legend":null}}},
   {"mark":{"type":"rule","color":"#000","strokeWidth":1.5},"encoding":{"y":{"field":"mean","type":"quantitative","axis":{"labelOverlap":false,"tickCount":30}},"y2":{"field":"upper"}}},
   {"mark":{"type":"tick","orient":"horizontal","color":"#000","thickness":1.5,"size":7},"encoding":{"y":{"field":"upper","type":"quantitative","axis":{"labelOverlap":false,"tickCount":30}}}},
   {"transform":[{"filter":"datum.sig=='n.s.'"}],"mark":{"type":"text","dy":-3,"baseline":"alphabetic","fontSize":12,"color":"#333"},"encoding":{"y":{"field":"upper","type":"quantitative","axis":{"labelOverlap":false,"tickCount":30}},"text":{"field":"sig"}}},
   {"transform":[{"filter":"datum.sig!='n.s.'"}],"mark":{"type":"text","dy":3,"baseline":"alphabetic","fontSize":13,"color":"#333"},"encoding":{"y":{"field":"upper","type":"quantitative","axis":{"labelOverlap":false,"tickCount":30}},"text":{"field":"sig"}}}
  ]},
 {"width":266,"height":140,
  "layer":[
   {"data":{"name":"table"},"transform":[{"filter":"datum.drug=='Afatinib'"}],
    "mark":{"type":"point","shape":"M-1,-0.75H1V0.75H-1Z","size":144,"filled":true,"opacity":1,"strokeWidth":0},
    "encoding":{"x":{"datum":"sw","type":"nominal","scale":{"type":"point","domain":["sw","[drug] nM","g1","1:1","g2","2:1"],"range":[45,210],"padding":0},"axis":{"orient":"top","domain":false,"ticks":false,"labelAngle":0,"labelPadding":0,"offset":-25,"labelFont":"Lato","labelFontWeight":"normal","labelFontSize":13,"labelColor":"#111","labelExpr":"datum.value == 'sw' || datum.value == 'g1' || datum.value == 'g2' ? '' : datum.value","labelOffset":{"condition":{"test":"datum.value == '[drug] nM'","value":6},"value":0},"title":"ΔΔCt","titleFont":"Lato","titleFontWeight":"bold","titleFontSize":13,"titlePadding":5,"titleX":180,"titleColor":"#111"}},
     "y":{"field":"conc","type":"nominal","scale":{"type":"point","domain":["100","50","10","5","1","0"],"range":[38,136],"padding":0},"axis":null},
     "color":{"field":"conc","type":"nominal","scale":{"domain":["100","50","10","5","1","0"],"range":["#5AA5F7","#FFA040","#9A9A9A","#FFFF00","#000080","#00C000"]},"legend":null}}},
   {"data":{"name":"table"},"transform":[{"filter":"datum.drug=='Afatinib'"}],"mark":{"type":"text","fontSize":13,"color":"#111"},
    "encoding":{"x":{"datum":"[drug] nM","type":"nominal"},"y":{"field":"conc","type":"nominal"},"text":{"field":"conc"}}},
   {"data":{"name":"table"},"transform":[{"filter":"datum.drug=='Afatinib'"}],"mark":{"type":"text","fontSize":13,"color":"#111"},
    "encoding":{"x":{"datum":"1:1","type":"nominal"},"y":{"field":"conc","type":"nominal"},"text":{"field":"r11","format":".2f"}}},
   {"data":{"name":"table"},"transform":[{"filter":"datum.drug=='Afatinib'"}],"mark":{"type":"text","fontSize":13,"color":"#111"},
    "encoding":{"x":{"datum":"2:1","type":"nominal"},"y":{"field":"conc","type":"nominal"},"text":{"field":"r21","format":".2f"}}},
   {"data":{"name":"boxes"},"transform":[{"filter":"datum.drug=='Afatinib'"}],
    "mark":{"type":"rect","fill":null,"stroke":"#C00000","strokeWidth":2,"xOffset":-22,"x2Offset":23,"yOffset":-10,"y2Offset":9},
    "encoding":{"x":{"datum":"[drug] nM","type":"nominal"},"x2":{"datum":"2:1"},"y":{"field":"from","type":"nominal"},"y2":{"field":"to"}}}
  ]},
 {"width":206,"height":140,"title":"Afatinib","data":{"name":"bars"},
  "transform":[{"filter":"datum.drug=='Afatinib' && datum.assay=='surv'"}],
  "encoding":{"x":{"field":"ratio","type":"nominal","title":null,"scale":{"paddingInner":0.11,"paddingOuter":0.02},"axis":{"labelAngle":0,"labelExpr":"replace(datum.label, ':', ' : ')","tickSize":4,"labelPadding":5}},
   "xOffset":{"field":"conc","type":"nominal","scale":{"domain":["100","50","10","5","1","0"],"paddingInner":0.35,"paddingOuter":0.175}}},
  "layer":[
   {"mark":"bar","encoding":{"y":{"field":"mean","type":"quantitative","scale":{"domain":[0,100],"nice":false},"axis":{"title":"% survival ID8-lucOS","values":[0,10,20,30,40,50,60,70,80,90,100],"tickCount":30,"format":"d","titlePadding":4,"labelOverlap":false}},"color":{"field":"conc","type":"nominal","scale":{"domain":["100","50","10","5","1","0"],"range":["#5AA5F7","#FFA040","#9A9A9A","#FFFF00","#000080","#00C000"]},"legend":null}}},
   {"mark":{"type":"rule","color":"#000","strokeWidth":1.5},"encoding":{"y":{"field":"mean","type":"quantitative","axis":{"labelOverlap":false,"tickCount":30}},"y2":{"field":"upper"}}},
   {"mark":{"type":"tick","orient":"horizontal","color":"#000","thickness":1.5,"size":7},"encoding":{"y":{"field":"upper","type":"quantitative","axis":{"labelOverlap":false,"tickCount":30}}}},
   {"transform":[{"filter":"datum.sig=='n.s.'"}],"mark":{"type":"text","dy":-3,"baseline":"alphabetic","fontSize":12,"color":"#333"},"encoding":{"y":{"field":"upper","type":"quantitative","axis":{"labelOverlap":false,"tickCount":30}},"text":{"field":"sig"}}},
   {"transform":[{"filter":"datum.sig!='n.s.'"}],"mark":{"type":"text","dy":3,"baseline":"alphabetic","fontSize":13,"color":"#333"},"encoding":{"y":{"field":"upper","type":"quantitative","axis":{"labelOverlap":false,"tickCount":30}},"text":{"field":"sig"}}}
  ]}
 ]}
]
}
